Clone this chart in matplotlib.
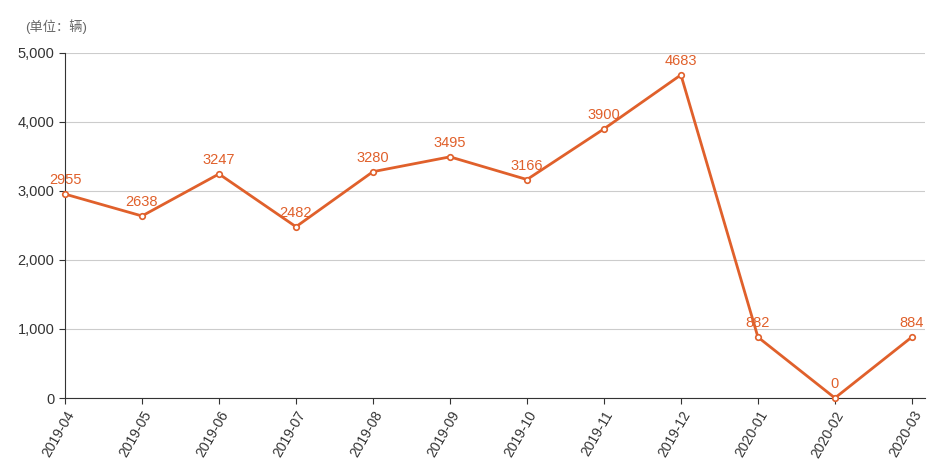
import matplotlib
matplotlib.use("Agg")
import matplotlib.pyplot as plt

plt.rcParams['font.family'] = ['Liberation Sans', 'Noto Sans CJK SC', 'DejaVu Sans']

months = ["2019-04","2019-05","2019-06","2019-07","2019-08","2019-09",
          "2019-10","2019-11","2019-12","2020-01","2020-02","2020-03"]
sales = [2955, 2638, 3247, 2482, 3280, 3495, 3166, 3900, 4683, 882, 0, 884]
yticks = [0, 1000, 2000, 3000, 4000, 5000]

fig = plt.figure(figsize=(9.34, 4.68), dpi=100)
ax = fig.add_axes([65/934, 1-398/468, 860/934, 345/468])
c = '#E0602B'
x = list(range(len(months)))
ax.plot(x, sales, color=c, lw=2, marker='o', ms=4, mfc='white', mec=c, mew=1.2, zorder=3, clip_on=False)
for xi, v in zip(x, sales):
    ax.annotate(str(v), (xi, v), xytext=(0, 5), textcoords='offset points',
                ha='center', va='bottom', color=c, fontsize=10.5)
ax.set_xlim(0, 11.17)
ax.set_ylim(0, 5000)
ax.set_yticks(yticks)
ax.set_yticklabels([f"{v:,}" for v in yticks], color='#333333', fontsize=10.5)
ax.set_xticks(x)
ax.set_xticklabels(months, rotation=60, ha='right', rotation_mode='anchor', color='#333333', fontsize=10)
ax.grid(axis='y', color='#cccccc', lw=0.8)
ax.set_axisbelow(True)
for s in ['top', 'right']:
    ax.spines[s].set_visible(False)
for s in ['left', 'bottom']:
    ax.spines[s].set_color('#333333')
ax.tick_params(axis='y', length=4, color='#333333')
ax.tick_params(axis='x', length=4, color='#333333')
fig.text(25/934, 1-27/468, "(单位：辆)", color='#666666', fontsize=9.5, va='center')
fig.savefig("out.png", dpi=100)
